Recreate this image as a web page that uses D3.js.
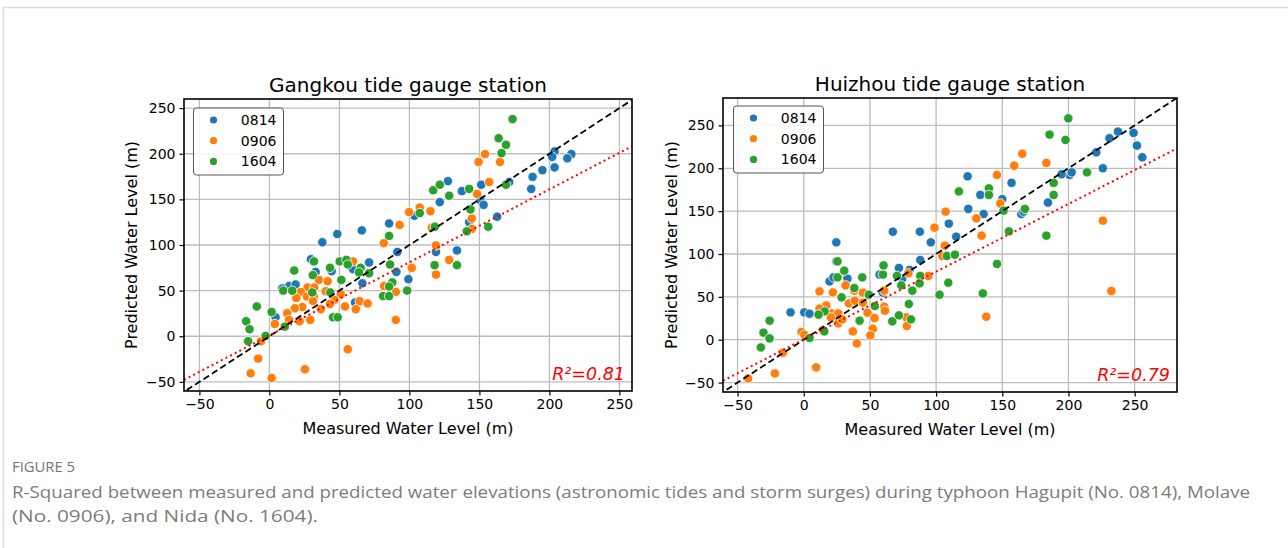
<!DOCTYPE html>
<html><head><meta charset="utf-8">
<script src="https://cdn.jsdelivr.net/npm/d3@7"></script>
<style>
html,body{margin:0;padding:0;background:#fff;}
svg{display:block;}
</style></head>
<body>
<svg id="chart" width="1288" height="548"></svg>
<script>
// ---------- DATA ----------
const seriesNames = ["0814", "0906", "1604"];
const seriesColors = ["#1f77b4", "#ff7f0e", "#2ca02c"];
const tickValues = [-50, 0, 50, 100, 150, 200, 250];
const panelTitles = ["Gangkou tide gauge station", "Huizhou tide gauge station"];
const r2Labels = ["R²=0.81", "R²=0.79"];
const fitSlopes = [0.8, 0.79];
const fitIntercepts = [1, 0.4];

const gangkou0814 = [[203.7,202.5],[202,196.6],[215.7,199.6],[212.8,195],[195,182],[203.7,185],[188,174.7],[187,161.5],[127.5,170],[137.5,159],[151.3,166],[121.7,147],[150.8,149],[153,144],[171.3,169],[103.6,132],[142.7,125],[162.7,131],[37.8,103],[48.5,112],[66,116],[85.5,123.6],[29.7,84.4],[33,70.5],[44.5,71.3],[59.7,73.5],[71.2,80.8],[66.4,58],[91.4,92.4],[90.7,70.5],[99.3,62.5],[14,55],[9.2,52.3],[18.7,56.7],[61.2,37],[4.4,20.8],[119,92.4],[134,94]];
const gangkou0906 = [[154,199.6],[149.4,191],[164.7,191],[157,169],[148.4,156],[99.8,136],[107.4,141],[115,137],[93,122],[144.6,129],[144.6,117.6],[116,119],[119,99.5],[81.7,102],[35.4,61.7],[41.6,60.3],[59.7,82],[81.9,55],[90.3,48.6],[27.3,53.4],[22.5,48.6],[32,53.4],[26.8,43.5],[31.8,43.5],[19.2,42],[31.1,38.7],[40.2,49.3],[51,46],[46.4,39.8],[43.3,35.4],[64.5,38.4],[70.2,35.9],[54,32.6],[61.7,29.6],[36.8,29.6],[23.5,32.1],[18.2,30.7],[12.7,25.2],[14,17.9],[21.6,16.4],[29.2,17.9],[90.3,17.9],[3.9,13.5],[-6,-5.5],[-8,-24.5],[-13.4,-40.6],[1.6,-45.7],[25.4,-36.2],[56,-14.3],[128.4,83.7],[119,67.6],[101.7,75]];
const gangkou1604 = [[173.7,238],[163.7,217],[169,209.8],[165.8,200.7],[169,166],[117,160],[121.7,166],[128.4,154],[142.7,161.5],[107.4,135],[143.6,139],[118.2,120],[141,115],[156.3,120],[85.5,110],[31.8,82],[17.7,72],[31,67],[43.3,75],[50.2,82],[55,83.7],[56,78.6],[65.2,75],[71.2,69],[64,70],[51.4,61.7],[86.2,78.6],[87.8,59],[85.5,54.5],[98.4,50],[81.2,44],[85.5,44],[9.9,50],[16.3,50],[30.6,48],[43.5,48],[-9,32.6],[1.6,26.6],[45.4,20.8],[48.8,20.8],[11,10.6],[-16.6,16.4],[-14.2,7.7],[-2.7,0.3],[-15.2,-5.5],[118,77.9],[134,77.9]];

const huizhou0814 = [[24.6,113.6],[67.3,126],[87.7,126],[96,113.6],[109.6,135.4],[237.4,242.8],[249.2,241.3],[231,235],[251.7,226.5],[255.8,212.8],[221,218.6],[226,200],[200.9,192.2],[194.8,193],[202.4,195.3],[123.8,190.6],[157,183],[133.4,169],[150,164],[184.5,160],[124.3,152.6],[135.9,146.7],[164.4,146.7],[166,149.4],[115.2,120.2],[19.5,68],[24.6,91.4],[33,71.2],[57.3,75.9],[71.9,83.7],[80,81.4],[88,93],[74.4,71.2],[59.8,54.9],[-10,31.9],[0.4,31.9],[4.4,30.3],[22.5,72.7]];
const huizhou0906 = [[98.8,130.7],[107.2,149.4],[165.1,217],[159,203],[183.3,206.3],[146,192.2],[148.5,159],[130.4,141.6],[226,138.9],[134.4,121.4],[106.6,109.7],[232.4,56.8],[137.9,26.8],[104.7,97.7],[31.6,63.4],[79,77.4],[94.1,74.4],[11.9,56.4],[22,55.2],[38.2,57.2],[44.7,54.9],[60.8,57.2],[34.1,42.4],[38.6,45.5],[44.7,43.2],[60.8,38.5],[61.3,33.9],[17,40],[11.9,36.2],[21,30.7],[26.1,30.7],[20.5,26],[26.1,19],[29.1,23.7],[48.2,31.5],[53.5,25.3],[77.5,26],[77.9,16],[-1.7,9],[0.4,5.8],[14.4,11.3],[52.2,12.8],[50.3,5],[37.1,9.7],[40.1,-4.3],[-15.8,-15.2],[9.4,-32.3],[-21.8,-39.3],[-42,-45.2]];
const huizhou1604 = [[199.9,258.3],[185.7,239.3],[197.8,233.1],[214,195.3],[188.8,183],[117.2,173],[139.9,176.6],[139.9,168.9],[188.8,168.9],[151,150.6],[167.1,152.6],[155,126.4],[183.3,121.4],[108.1,97.7],[114.2,99.2],[146,88.4],[109.2,66.5],[102.6,52.5],[135.3,54],[25.5,91.4],[25.5,72.7],[30.6,80.5],[44.2,72.7],[59.8,75.9],[60.3,86.7],[70.4,74.4],[88,74.4],[73.7,63.4],[87.5,65.7],[28.6,49.4],[38.2,60.3],[82,57.2],[49.2,52.5],[53.7,39.3],[79.4,41.7],[15.7,33],[11.2,29.2],[42.2,22.2],[66.9,21.4],[71.9,28.4],[81,23.7],[-25.8,22.2],[-30.4,8.2],[-25.8,1.5],[-32.4,-9],[4.4,2],[15.5,9.7]];

const xDomains = [[-61, 259], [-61, 282]];
const yDomains = [[-60, 260], [-61, 282]];

const captionLabel = "FIGURE 5";
const captionLines = [
  "R-Squared between measured and predicted water elevations (astronomic tides and storm surges) during typhoon Hagupit (No. 0814), Molave",
  "(No. 0906), and Nida (No. 1604)."
];

// ---------- DRAW ----------
const svg = d3.select("#chart");
const FONT = "'DejaVu Sans', sans-serif";

// card border
svg.append("line").attr("x1", 3).attr("x2", 1288).attr("y1", 7.5).attr("y2", 7.5).attr("stroke", "#dcdcdc").attr("stroke-width", 1.5);
svg.append("line").attr("x1", 3.5).attr("x2", 3.5).attr("y1", 7).attr("y2", 548).attr("stroke", "#dcdcdc").attr("stroke-width", 1.5);

const panels = [
  {box: {l: 184, r: 632, t: 99, b: 391}, data: [gangkou0814, gangkou0906, gangkou1604], ylabX: 131, legend: {x: 193.5, y: 108}},
  {box: {l: 723, r: 1177, t: 98, b: 392}, data: [huizhou0814, huizhou0906, huizhou1604], ylabX: 671, legend: {x: 733.5, y: 106}}
];

panels.forEach((p, i) => {
  const {l, r, t, b} = p.box;
  const x = d3.scaleLinear().domain(xDomains[i]).range([l, r]);
  const y = d3.scaleLinear().domain(yDomains[i]).range([b, t]);
  const g = svg.append("g");

  const clipId = "clip" + i;
  svg.append("clipPath").attr("id", clipId).append("rect").attr("x", l).attr("y", t).attr("width", r - l).attr("height", b - t);

  // grid
  const grid = g.append("g").attr("stroke", "#bdbdbd").attr("stroke-width", 1.3);
  tickValues.forEach(v => {
    grid.append("line").attr("x1", x(v)).attr("x2", x(v)).attr("y1", t).attr("y2", b);
    grid.append("line").attr("x1", l).attr("x2", r).attr("y1", y(v)).attr("y2", y(v));
  });

  const inner = g.append("g").attr("clip-path", `url(#${clipId})`);
  // points
  p.data.forEach((pts, si) => {
    inner.append("g").selectAll("circle").data(pts).join("circle")
      .attr("cx", d => x(d[0])).attr("cy", d => y(d[1])).attr("r", 4.7)
      .attr("fill", seriesColors[si]).attr("stroke", "#ffffff").attr("stroke-width", 0.8);
  });

  // 1:1 dashed line
  const lo = Math.min(xDomains[i][0], yDomains[i][0]) - 10, hi = Math.max(xDomains[i][1], yDomains[i][1]) + 10;
  inner.append("line").attr("x1", x(lo)).attr("y1", y(lo)).attr("x2", x(hi)).attr("y2", y(hi))
    .attr("stroke", "#000").attr("stroke-width", 1.8).attr("stroke-dasharray", "6.5,3.5");
  // fit dotted line
  const fx0 = xDomains[i][0], fx1 = xDomains[i][1];
  inner.append("line").attr("x1", x(fx0)).attr("y1", y(fitSlopes[i] * fx0 + fitIntercepts[i]))
    .attr("x2", x(fx1)).attr("y2", y(fitSlopes[i] * fx1 + fitIntercepts[i]))
    .attr("stroke", "#ff0000").attr("stroke-width", 2).attr("stroke-dasharray", "2,3.2");

  // axes
  const fmt = d => d < 0 ? "\u2212" + Math.abs(d) : d;
  const xAxis = d3.axisBottom(x).tickValues(tickValues).tickSize(4.5).tickPadding(4).tickFormat(fmt);
  const yAxis = d3.axisLeft(y).tickValues(tickValues).tickSize(4.5).tickPadding(4).tickFormat(fmt);
  const gx = g.append("g").attr("transform", `translate(0,${b})`).call(xAxis);
  const gy = g.append("g").attr("transform", `translate(${l},0)`).call(yAxis);
  [gx, gy].forEach(ax => {
    ax.select(".domain").remove();
    ax.selectAll("line").attr("stroke", "#000").attr("stroke-width", 1.2);
    ax.selectAll("text").attr("font-family", FONT).attr("font-size", 14).attr("fill", "#000");
  });

  // frame
  g.append("rect").attr("x", l).attr("y", t).attr("width", r - l).attr("height", b - t)
    .attr("fill", "none").attr("stroke", "#000").attr("stroke-width", 1.6);

  // title
  g.append("text").attr("x", (l + r) / 2).attr("y", t - 7).attr("text-anchor", "middle")
    .attr("font-family", FONT).attr("font-size", 20).attr("fill", "#000").text(panelTitles[i]);
  // axis labels
  g.append("text").attr("x", (l + r) / 2).attr("y", b + 43).attr("text-anchor", "middle")
    .attr("font-family", FONT).attr("font-size", 16).attr("fill", "#000").text("Measured Water Level (m)");
  g.append("text").attr("transform", `translate(${p.ylabX},${(t + b) / 2}) rotate(-90)`).attr("text-anchor", "middle")
    .attr("dy", "0.35em").attr("font-family", FONT).attr("font-size", 16).attr("fill", "#000").text("Predicted Water Level (m)");

  // R² label
  g.append("text").attr("x", r - 7).attr("y", b - 11).attr("text-anchor", "end")
    .attr("font-family", FONT).attr("font-style", "italic").attr("font-size", 17.5).attr("fill", "#ff0000").text(r2Labels[i]);

  // legend
  const lg = g.append("g").attr("transform", `translate(${p.legend.x},${p.legend.y})`);
  lg.append("rect").attr("width", 90).attr("height", 67).attr("rx", 3)
    .attr("fill", "#fff").attr("fill-opacity", 0.85).attr("stroke", "#555").attr("stroke-width", 1);
  seriesNames.forEach((n, si) => {
    const cy = 12 + si * 20.7;
    lg.append("circle").attr("cx", 20).attr("cy", cy).attr("r", 3.6).attr("fill", seriesColors[si]);
    lg.append("text").attr("x", 83).attr("y", cy).attr("dy", "0.36em").attr("text-anchor", "end")
      .attr("font-family", FONT).attr("font-size", 14).attr("fill", "#000").text(n);
  });
});

// caption
svg.append("text").attr("x", 12).attr("y", 472).attr("font-family", "'Open Sans', sans-serif")
  .attr("font-size", 14).attr("fill", "#747474").attr("textLength", 63).attr("lengthAdjust", "spacingAndGlyphs").text(captionLabel);
const captionWidths = [1238, 306];
captionLines.forEach((line, i) => {
  svg.append("text").attr("x", 12).attr("y", 498 + i * 24).attr("font-family", "'Open Sans', sans-serif")
    .attr("font-size", 17).attr("fill", "#7c7c7c")
    .attr("textLength", captionWidths[i]).attr("lengthAdjust", "spacingAndGlyphs").text(line);
});
</script>
</body></html>
